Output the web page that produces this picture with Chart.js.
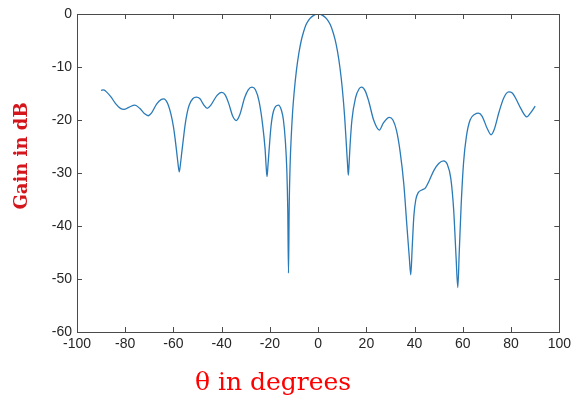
<!DOCTYPE html>
<html>
<head>
<meta charset="utf-8">
<script src="https://cdn.jsdelivr.net/npm/chart.js@4/dist/chart.umd.min.js"></script>
<style>
  body { margin: 0; background: #fff; }
  #wrap { width: 575px; height: 400px; }
</style>
</head>
<body>
<div id="wrap"><canvas id="beam" width="575" height="400"></canvas></div>
<script>
// beam pattern (theta in degrees, gain in dB)
const thetas = [
  -90, -89, -88, -86, -84, -82, -80.5, -78.5, -76, -74, -72, -70.5, -69, -67, -65, -64,
  -62.5, -61, -60, -59.3, -58.6, -58.1, -57.6, -57.1, -56.6, -55.9, -55.2, -54.3, -53.5, -52, -50.5, -49, -47.5, -46, -44.5,
  -42, -40, -38.5, -37, -35.5, -34, -32.5, -30.5, -29, -27.5, -26, -24.5, -23, -22, -21.6, -21.2,
  -20.8, -20.4, -19.5, -18.5, -16.5, -15.2, -14.4, -13.6, -13.0, -12.6, -12.3, -12.0, -11.6, -11.2,
  -10.6, -10, -9, -8, -7, -6, -5, -4, -3, -2, -1, 0, 1, 2, 3, 4, 5, 6, 7, 8, 9, 10, 11, 11.8,
  12.2, 12.5, 12.8, 13.2, 14, 15.5, 17, 18, 19.5, 21, 23, 25.4, 27, 29.5, 31, 32.5, 34, 35.5, 36.8,
  37.8, 38.4, 39, 39.7, 40.5, 41.5, 43, 44.5, 46, 48, 50, 52, 53.5, 55, 56.2, 57.2, 57.9,
  58.5, 59.3, 60.3, 61.5, 63, 65, 66.5, 68, 70, 71.7, 73, 75, 77, 79, 80.5, 82, 84, 86.5,
  88, 90
];
const gains = [
  -14.4, -14.3, -14.6, -15.6, -16.9, -17.8, -18.0, -17.6, -17.2, -17.8, -18.8, -19.2, -18.6, -17.0, -16.1, -16.0,
  -16.8, -19.0, -21.3, -23.6, -26.3, -28.3, -29.8, -28.3, -26.3, -23.6, -21.0, -18.6, -17.2, -16.0, -15.7, -16.0, -17.1, -17.8, -17.2,
  -15.4, -14.8, -15.3, -17.0, -19.2, -20.1, -19.0, -15.8, -14.3, -13.8, -14.3, -16.5, -21.0, -25.5, -28.5, -30.7,
  -28.5, -26.0, -21.0, -18.3, -17.2, -18.2, -20.0, -24.0, -29.4, -37.0, -48.9, -36.0, -28.0, -23.5,
  -18.5, -15.0, -10.6, -7.4, -5.0, -3.3, -2.0, -1.2, -0.65, -0.3, -0.07, 0, -0.07, -0.3, -0.65, -1.2, -2.0, -3.2, -4.8, -7.0, -10.0, -14.0, -19.5, -25.5,
  -28.5, -30.4, -28.5, -25.0, -20.0, -15.8, -14.1, -13.8, -14.5, -16.5, -20.0, -21.9, -20.6, -19.5, -20.0, -22.0, -26.0, -32.0, -40.0,
  -46.0, -49.2, -44.0, -38.0, -35.0, -33.7, -33.2, -32.8, -31.5, -29.5, -28.2, -27.7, -28.3, -31.0, -37.0, -46.0, -51.6,
  -45.0, -36.0, -28.0, -23.0, -20.0, -18.9, -18.7, -19.3, -21.5, -22.8, -21.8, -18.5, -15.8, -14.7, -14.9, -16.0, -17.8, -19.4,
  -18.7, -17.4
];

const xTitle = "θ in degrees";
const yTitle = "Gain in dB";

// box round the plot, inward ticks on all four sides, red axis titles
const boxPlugin = {
  id: 'box',
  afterDraw(chart) {
    const { ctx, chartArea: a, scales: { x, y } } = chart;
    ctx.save();
    ctx.strokeStyle = '#4a4a4a';
    ctx.lineWidth = 1;
    ctx.strokeRect(Math.round(a.left) + 0.5, Math.round(a.top) + 0.5,
                   Math.round(a.width), Math.round(a.height));
    ctx.beginPath();
    x.ticks.forEach(t => {
      const px = Math.round(x.getPixelForValue(t.value)) + 0.5;
      ctx.moveTo(px, a.bottom); ctx.lineTo(px, a.bottom - 5);
      ctx.moveTo(px, a.top); ctx.lineTo(px, a.top + 5);
    });
    y.ticks.forEach(t => {
      const py = Math.round(y.getPixelForValue(t.value)) + 0.5;
      ctx.moveTo(a.left, py); ctx.lineTo(a.left + 5, py);
      ctx.moveTo(a.right, py); ctx.lineTo(a.right - 5, py);
    });
    ctx.stroke();

    ctx.fillStyle = '#d4161c';
    ctx.textAlign = 'center';
    ctx.textBaseline = 'middle';
    ctx.font = 'bold 18px "DejaVu Serif", "Liberation Serif", serif';
    ctx.translate(22, 156);
    ctx.rotate(-Math.PI / 2);
    ctx.fillText(yTitle, 0, 0);
    ctx.restore();

    ctx.save();
    ctx.fillStyle = '#ff0000';
    ctx.textAlign = 'center';
    ctx.textBaseline = 'middle';
    ctx.font = '25px "DejaVu Serif", "Liberation Serif", serif';
    ctx.fillText(xTitle, 273, 383);
    ctx.restore();
  }
};

new Chart(document.getElementById('beam'), {
  type: 'line',
  data: {
    datasets: [{
      data: thetas.map((t, i) => ({ x: t, y: gains[i] })),
      borderColor: '#2a7ab8',
      borderWidth: 1.3,
      pointRadius: 0,
      fill: false,
      cubicInterpolationMode: 'monotone'
    }]
  },
  options: {
    responsive: false,
    animation: false,
    layout: { padding: { left: 37, top: 14, right: 12, bottom: 0 } },
    plugins: { legend: { display: false }, tooltip: { enabled: false } },
    scales: {
      x: {
        type: 'linear',
        min: -100, max: 100,
        ticks: { stepSize: 20, color: '#262626', font: { size: 14, family: 'Liberation Sans, Arial, sans-serif' }, padding: 4, maxRotation: 0 },
        grid: { display: false, drawTicks: false },
        border: { display: false },
        afterFit: s => { s.height = 68; }
      },
      y: {
        min: -60, max: 0,
        ticks: { stepSize: 10, color: '#262626', font: { size: 14, family: 'Liberation Sans, Arial, sans-serif' }, padding: 5 },
        grid: { display: false, drawTicks: false },
        border: { display: false },
        afterFit: s => { s.width = 40; }
      }
    }
  },
  plugins: [boxPlugin]
});
</script>
</body>
</html>
